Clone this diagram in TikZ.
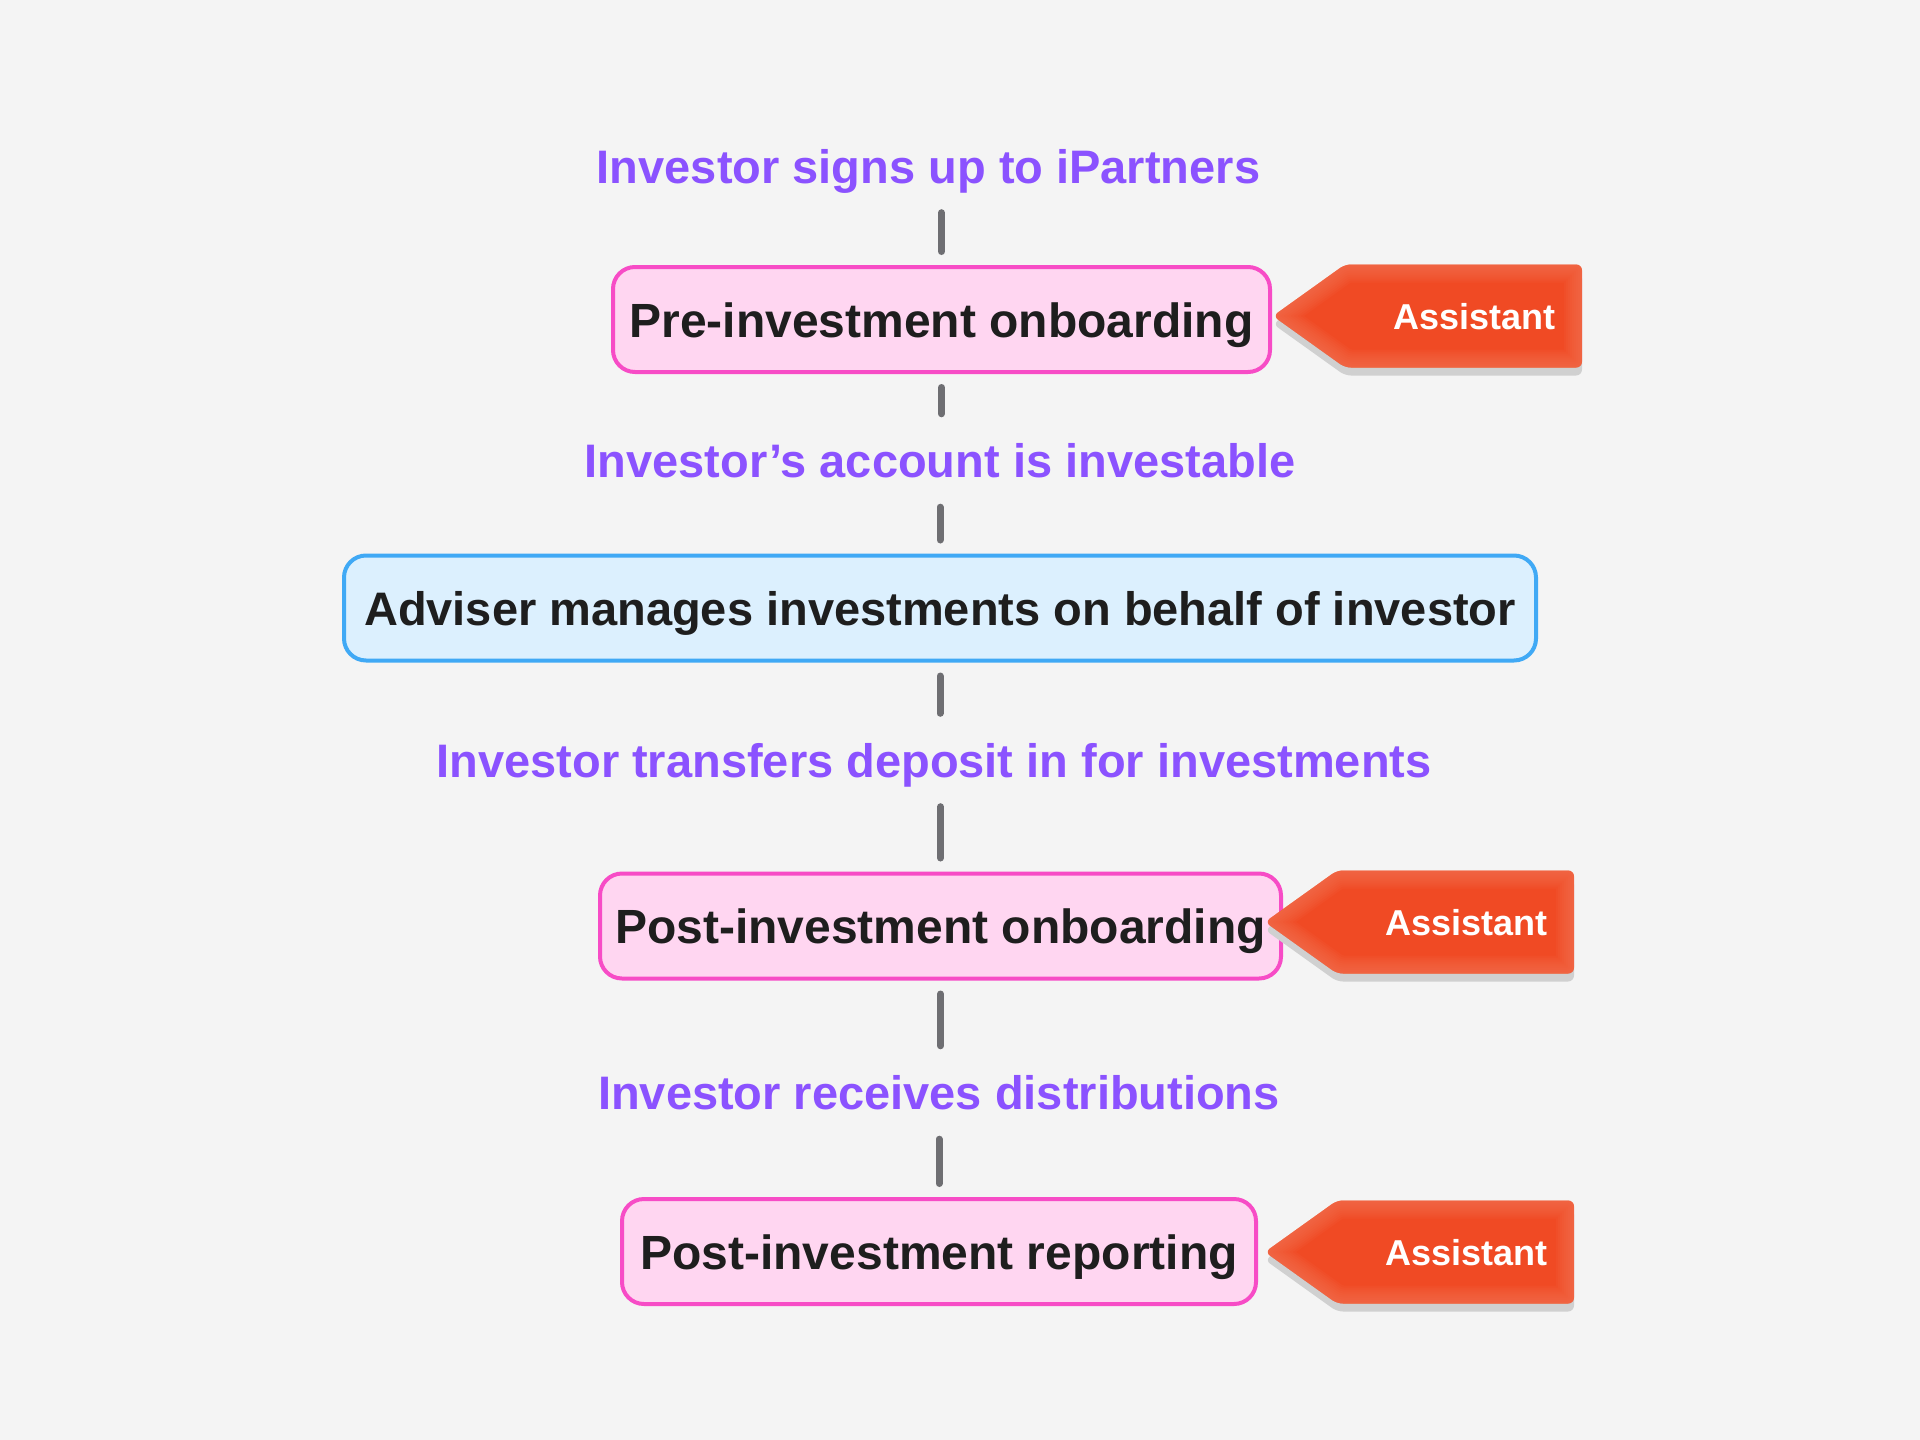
\documentclass[tikz,border=0pt]{standalone}
\usepackage{fontspec}
\setmainfont{Liberation Sans}
\definecolor{bgcol}{HTML}{F4F4F4}
\definecolor{labpurple}{HTML}{8B52FF}
\definecolor{ink}{HTML}{1E1E1E}
\definecolor{pinkfill}{HTML}{FFD6F1}
\definecolor{pinkline}{HTML}{F74CC6}
\definecolor{bluefill}{HTML}{DCF0FE}
\definecolor{blueline}{HTML}{40A9F5}
\definecolor{conngrey}{HTML}{6E6E72}
\definecolor{tagA}{HTML}{F04A24}
\definecolor{tagB}{HTML}{F77858}
\definecolor{tagshadowcol}{HTML}{D0D0D0}
\tikzset{
  lab/.style={text=labpurple, font=\fontsize{47}{56}\selectfont\bfseries, inner sep=0pt, text height=34pt, text depth=0pt},
  flowbox/.style={rectangle, rounded corners=22pt, line width=4pt, inner sep=0pt, text height=35pt, text depth=0pt,
    font=\fontsize{48}{58}\selectfont\bfseries, text=ink, minimum height=105pt},
  pinkbox/.style={flowbox, draw=pinkline, fill=pinkfill},
  bluebox/.style={flowbox, draw=blueline, fill=bluefill, font=\fontsize{47}{56}\selectfont\bfseries},
  tagtext/.style={text=white, font=\fontsize{36}{44}\selectfont\bfseries, inner sep=0pt, text height=26pt, text depth=0pt},
  connLB/.style={draw=conngrey, line width=7pt, line cap=round, shorten <=29.5pt, shorten >=13.5pt},
  connBL/.style={draw=conngrey, line width=7pt, line cap=round, shorten <=13.5pt, shorten >=29.5pt}
}
\def\tagshape{(0,0) -- (72,-51.5) -- (309,-51.5) -- (309,51.5) -- (72,51.5) -- cycle}
\newcommand{\asstag}[3]{%
  \begin{scope}[shift={(#2,#3)}]
    \fill[tagshadowcol, rounded corners=6pt] (0,8) -- (72,-43.5) -- (309,-43.5) -- (309,59.5) -- (72,59.5) -- cycle;
    \begin{scope}
      \clip[rounded corners=6pt] \tagshape;
      \fill[tagA] \tagshape;
      \foreach \w in {36,32,...,4} {
        \draw[tagB, line width=\w pt, opacity=0.1, rounded corners=6pt] \tagshape;
      }
    \end{scope}
    \node[tagtext, anchor=east] (#1) at (283,0) {Assistant};
  \end{scope}}
\begin{document}
\begin{tikzpicture}[x=1pt,y=-1pt]
\fill[bgcol] (0,0) rectangle (1920,1440);
\useasboundingbox (0,0) rectangle (1920,1440);

\node[lab] (lab1) at (928.5,166) {Investor signs up to iPartners};
\node[pinkbox, minimum width=657pt] (box1) at (941.5,319.5) {Pre-investment onboarding};
\node[lab] (lab2) at (940,460.5) {Investor’s account is investable};
\node[bluebox, minimum width=1192pt] (box2) at (940,608) {Adviser manages investments on behalf of investor};
\node[lab] (lab3) at (934,760) {Investor transfers deposit in for investments};
\node[pinkbox, minimum width=681pt] (box3) at (940.5,926) {Post-investment onboarding};
\node[lab] (lab4) at (939,1092.5) {Investor receives distributions};
\node[pinkbox, minimum width=634pt] (box4) at (939,1251.5) {Post-investment reporting};

\draw[connLB] (box1.north |- lab1.south) -- (box1.north);
\draw[connBL] (box1.south) -- (box1.south |- lab2.north);
\draw[connLB] (box2.north |- lab2.south) -- (box2.north);
\draw[connBL] (box2.south) -- (box2.south |- lab3.north);
\draw[connLB] (box3.north |- lab3.south) -- (box3.north);
\draw[connBL] (box3.south) -- (box3.south |- lab4.north);
\draw[connLB] (box4.north |- lab4.south) -- (box4.north);

\asstag{tag1}{1273}{316}
\asstag{tag2}{1265}{922}
\asstag{tag3}{1265}{1252}
\end{tikzpicture}
\end{document}
